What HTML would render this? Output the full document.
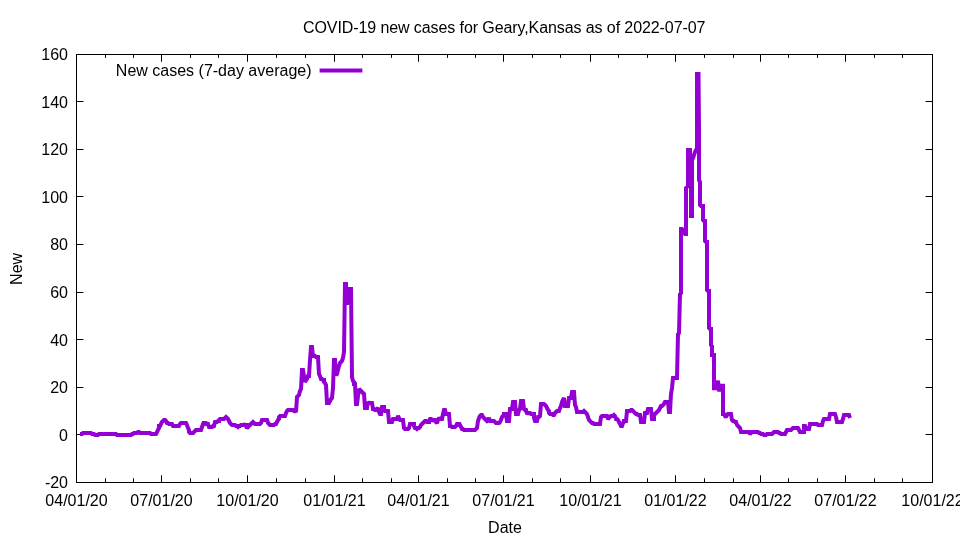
<!DOCTYPE html>
<html lang="en"><head><meta charset="utf-8"><title>COVID-19 new cases for Geary,Kansas</title>
<style>html,body{margin:0;padding:0;background:#fff;overflow:hidden}body{width:960px;height:540px}</style></head>
<body>
<svg width="960" height="540" viewBox="0 0 960 540" style="display:block">
<rect width="960" height="540" fill="#fff"/>
<path d="M76.5 482.5v-7.25M76.5 54.5v7.25M105.5 482.5v-4.25M105.5 54.5v3.35M133.5 482.5v-4.25M133.5 54.5v3.35M161.5 482.5v-7.25M161.5 54.5v7.25M190.5 482.5v-4.25M190.5 54.5v3.35M218.5 482.5v-4.25M218.5 54.5v3.35M247.5 482.5v-7.25M247.5 54.5v7.25M276.5 482.5v-4.25M276.5 54.5v3.35M305.5 482.5v-4.25M305.5 54.5v3.35M334.5 482.5v-7.25M334.5 54.5v7.25M362.5 482.5v-4.25M362.5 54.5v3.35M391.5 482.5v-4.25M391.5 54.5v3.35M418.5 482.5v-7.25M418.5 54.5v7.25M447.5 482.5v-4.25M447.5 54.5v3.35M475.5 482.5v-4.25M475.5 54.5v3.35M503.5 482.5v-7.25M503.5 54.5v7.25M532.5 482.5v-4.25M532.5 54.5v3.35M560.5 482.5v-4.25M560.5 54.5v3.35M590.5 482.5v-7.25M590.5 54.5v7.25M618.5 482.5v-4.25M618.5 54.5v3.35M647.5 482.5v-4.25M647.5 54.5v3.35M675.5 482.5v-7.25M675.5 54.5v7.25M704.5 482.5v-4.25M704.5 54.5v3.35M733.5 482.5v-4.25M733.5 54.5v3.35M760.5 482.5v-7.25M760.5 54.5v7.25M788.5 482.5v-4.25M788.5 54.5v3.35M817.5 482.5v-4.25M817.5 54.5v3.35M845.5 482.5v-7.25M845.5 54.5v7.25M874.5 482.5v-4.25M874.5 54.5v3.35M902.5 482.5v-4.25M902.5 54.5v3.35M932.5 482.5v-7.25M932.5 54.5v7.25M76.5 482.5h6.9M932.5 482.5h-6.9M76.5 434.5h6.9M932.5 434.5h-6.9M76.5 387.5h6.9M932.5 387.5h-6.9M76.5 339.5h6.9M932.5 339.5h-6.9M76.5 292.5h6.9M932.5 292.5h-6.9M76.5 244.5h6.9M932.5 244.5h-6.9M76.5 196.5h6.9M932.5 196.5h-6.9M76.5 149.5h6.9M932.5 149.5h-6.9M76.5 101.5h6.9M932.5 101.5h-6.9M76.5 54.5h6.9M932.5 54.5h-6.9" stroke="#000" stroke-width="1" fill="none"/>
<g font-family="'Liberation Sans', Arial, sans-serif" font-size="16" fill="#000">
<text x="76.5" y="505.5" text-anchor="middle">04/01/20</text>
<text x="161.5" y="505.5" text-anchor="middle">07/01/20</text>
<text x="247.5" y="505.5" text-anchor="middle">10/01/20</text>
<text x="334.5" y="505.5" text-anchor="middle">01/01/21</text>
<text x="418.5" y="505.5" text-anchor="middle">04/01/21</text>
<text x="503.5" y="505.5" text-anchor="middle">07/01/21</text>
<text x="590.5" y="505.5" text-anchor="middle">10/01/21</text>
<text x="675.5" y="505.5" text-anchor="middle">01/01/22</text>
<text x="760.5" y="505.5" text-anchor="middle">04/01/22</text>
<text x="845.5" y="505.5" text-anchor="middle">07/01/22</text>
<text x="932.5" y="505.5" text-anchor="middle">10/01/22</text>
<text x="68" y="488.2" text-anchor="end">-20</text>
<text x="68" y="441.2" text-anchor="end">0</text>
<text x="68" y="393.2" text-anchor="end">20</text>
<text x="68" y="346.2" text-anchor="end">40</text>
<text x="68" y="298.2" text-anchor="end">60</text>
<text x="68" y="250.2" text-anchor="end">80</text>
<text x="68" y="203.2" text-anchor="end">100</text>
<text x="68" y="155.2" text-anchor="end">120</text>
<text x="68" y="108.2" text-anchor="end">140</text>
<text x="68" y="60.2" text-anchor="end">160</text>
<text x="504.2" y="32.6" text-anchor="middle" textLength="402.4" lengthAdjust="spacing">COVID-19 new cases for Geary,Kansas as of 2022-07-07</text>
<text x="505" y="532.6" text-anchor="middle">Date</text>
<text transform="translate(21.5,268.9) rotate(-90)" text-anchor="middle">New</text>
<text x="311.5" y="76" text-anchor="end">New cases (7-day average)</text>
</g>
<path d="M80 434L81 434L82 434L83 433L84 433L85 433L86 433L87 433L88 433L89 433L90 433L91 433L92 434L93 434L94 434L95 435L96 435L97 435L98 435L99 434L100 434L101 434L102 434L103 434L104 434L105 434L106 434L107 434L108 434L109 434L110 434L111 434L112 434L113 434L114 434L115 434L116 434L117 435L118 435L119 435L120 435L121 435L122 435L123 435L124 435L125 435L126 435L127 435L128 435L129 435L130 435L131 435L132 434L133 434L134 433L135 433L136 433L137 433L138 432L139 432L140 433L141 433L142 433L143 433L144 433L145 433L146 433L147 433L148 433L149 433L150 433L151 434L152 434L153 434L154 434L155 434L156 434L157 432L158 430L159 428L159 426L160 426L161 424L162 422L163 421L164 420L165 420L166 421L167 423L168 423L169 424L170 424L171 424L172 424L173 426L174 426L175 426L176 426L177 426L178 426L179 426L180 424L181 423L182 423L183 423L184 423L185 423L186 423L187 425L188 428L189 430L189 432L190 433L191 433L192 433L193 433L194 432L195 431L196 430L197 430L198 430L199 430L200 430L201 430L202 427L203 424L204 424L204 423L205 423L206 423L207 424L208 424L209 427L210 427L211 427L212 427L213 426L214 426L215 422L216 422L217 422L218 421L219 421L219 420L220 419L221 419L222 419L223 419L224 419L225 418L226 417L227 418L228 419L229 421L230 423L231 424L232 425L233 425L234 425L235 425L236 426L237 426L238 427L239 426L240 426L241 425L242 425L243 425L244 425L245 424L246 426L247 428L248 427L249 426L249 425L250 425L251 424L252 423L253 422L254 423L255 424L256 424L257 424L258 424L259 424L260 424L261 423L262 420L263 420L264 420L265 420L266 420L267 420L268 423L269 424L270 425L271 425L272 425L273 425L274 425L275 424L276 424L277 422L278 420L279 419L279 417L280 416L281 416L282 416L283 416L284 416L285 416L286 413L287 411L288 410L289 410L290 410L291 410L292 410L293 410L294 411L295 411L296 412L297 397L298 396L299 395L300 391L301 389L302 370L303 370L304 376L305 382L306 380L307 379L308 376L309 376L310 360L311 347L312 347L313 356L314 356L315 356L316 357L317 357L318 357L319 374L320 376L321 379L322 379L323 380L324 380L324 382L325 383L326 385L327 403L328 403L329 403L330 401L331 399L332 398L333 388L334 360L335 360L336 375L337 374L338 370L339 366L340 363L341 362L342 361L343 358L344 352L345 284L346 284L347 305L348 289L349 289L350 289L351 289L352 377L353 381L354 382L354 384L355 384L356 404L357 404L358 396L359 389L360 390L361 391L362 392L363 393L364 394L365 408L366 408L367 408L368 402L369 403L370 403L371 403L372 403L373 409L374 409L375 410L376 410L377 409L378 408L379 412L380 414L381 414L382 407L383 407L384 407L384 409L385 411L386 411L387 411L388 411L389 422L390 422L391 422L392 422L393 419L394 419L395 419L396 419L397 419L398 416L399 418L399 419L400 420L401 420L402 420L403 420L404 428L405 429L406 429L407 429L408 429L409 428L410 424L411 424L412 424L413 424L414 424L414 426L415 428L416 428L417 429L418 428L419 428L420 427L421 425L422 424L423 423L424 422L425 421L426 421L427 422L428 422L429 422L429 421L430 419L431 419L432 421L433 420L434 420L435 420L436 422L437 423L438 420L439 418L440 419L441 419L442 419L443 414L444 410L445 410L446 414L447 414L448 414L449 414L450 426L451 426L452 427L453 427L454 427L455 427L456 426L457 424L458 424L459 424L459 425L460 425L461 427L462 429L463 429L464 430L465 430L466 430L467 430L468 430L469 430L470 430L471 430L472 430L473 430L474 430L475 430L476 429L477 428L478 421L479 418L480 416L481 415L482 415L483 417L484 418L485 419L486 420L487 421L488 420L489 418L490 421L491 421L492 421L493 421L494 421L495 422L496 423L497 423L498 423L499 423L500 422L501 420L502 417L503 416L504 415L504 414L505 414L506 414L507 421L508 421L509 421L510 409L511 409L512 409L513 402L514 402L515 402L516 414L517 414L518 414L519 410L520 409L521 401L522 401L523 401L524 409L525 410L526 410L527 414L528 413L529 413L530 413L531 414L532 414L533 414L534 414L534 418L535 421L536 421L537 421L538 417L539 417L540 416L541 404L542 404L543 404L544 404L545 405L546 406L547 408L548 410L549 411L549 413L550 414L551 414L552 414L553 415L554 415L555 413L556 412L557 411L558 411L559 411L560 408L561 406L562 402L563 400L564 398L565 406L566 406L567 406L568 406L569 398L570 398L571 398L572 392L573 392L574 392L575 405L576 407L577 412L578 412L579 412L580 412L581 412L582 412L583 412L584 411L585 412L586 413L587 414L588 417L589 420L590 421L591 422L592 423L593 423L594 424L595 424L596 424L597 424L598 424L599 424L600 424L601 417L602 416L603 416L604 416L605 416L606 416L607 416L608 419L609 418L609 417L610 417L611 416L612 416L613 416L614 415L615 416L616 419L617 419L618 420L619 422L620 424L621 426L622 426L623 423L624 422L624 421L625 421L626 421L627 411L628 411L629 411L630 411L631 410L632 410L633 411L634 412L635 413L636 414L637 414L638 415L639 415L640 415L641 422L642 422L643 422L644 422L645 413L646 413L647 413L648 409L649 409L650 409L651 409L652 419L653 419L654 419L654 415L655 414L656 413L657 412L658 411L659 410L660 408L661 406L662 406L663 405L664 404L665 402L666 402L667 402L668 402L669 412L670 412L671 394L672 388L673 378L674 378L675 378L676 378L677 378L678 334L679 333L680 294L681 293L681 229L682 229L683 230L684 233L685 234L686 234L686 188L688 186L688 150L689 150L690 150L690 156L691 170L691 216L692 216L692 160L693 158L694 155L695 152L696 150L697 149L697 74L698.5 74L699 130L699 180L700 182L700 205L701 206L703 206L703 220L704 221L705 221L705 241L706 242L707 242L707 290L708 291L709 291L709 328L710 329L711 329L711 345L712 346L712 355L714 355L714 388.3L717 388.3L718 380.6L719 389.7L721 389.7L721.5 385.7L723 385.7L723 414L724 414L725 416L726 417L727 415L728 414L729 414L730 414L731 414L732 420L733 421L734 421L735 422L736 422L737 425L738 426L739 427L740 428L741 432L742 432L743 432L744 432L745 432L746 432L747 432L748 432L749 432L750 434L751 433L752 432L753 432L754 432L755 432L756 432L757 432L758 432L759 433L760 433L761 434L762 434L763 434L764 435L765 435L766 435L767 434L768 434L769 434L770 434L771 434L772 434L773 433L774 432L775 432L776 432L777 432L778 432L779 433L780 433L781 434L782 434L783 434L784 434L785 434L786 432L787 430L788 430L789 430L790 430L791 430L792 429L793 428L794 428L795 428L796 428L797 428L798 428L799 430L800 432L801 432L802 432L803 432L804 432L804 426L805 426L806 429L807 429L808 429L809 429L810 424L811 424L812 424L813 424L814 424L815 424L816 424L817 424L818 425L819 425L820 425L821 425L822 425L823 421L824 419L825 419L826 419L827 419L828 419L829 419L830 414L831 414L832 414L833 414L834 414L835 414L836 417L837 422L838 422L839 422L840 422L841 422L842 422L843 419L844 415L845 415L846 415L847 415L848 415L849 415L850 418" stroke="#9400d3" stroke-width="4" fill="none" stroke-linejoin="miter" stroke-miterlimit="1.5" stroke-linecap="butt"/>
<path d="M319.6 70.4H362.4" stroke="#9400d3" stroke-width="4" fill="none"/>
<rect x="76.5" y="54.5" width="856.0" height="428.0" fill="none" stroke="#000" stroke-width="1"/>
</svg>
</body></html>
